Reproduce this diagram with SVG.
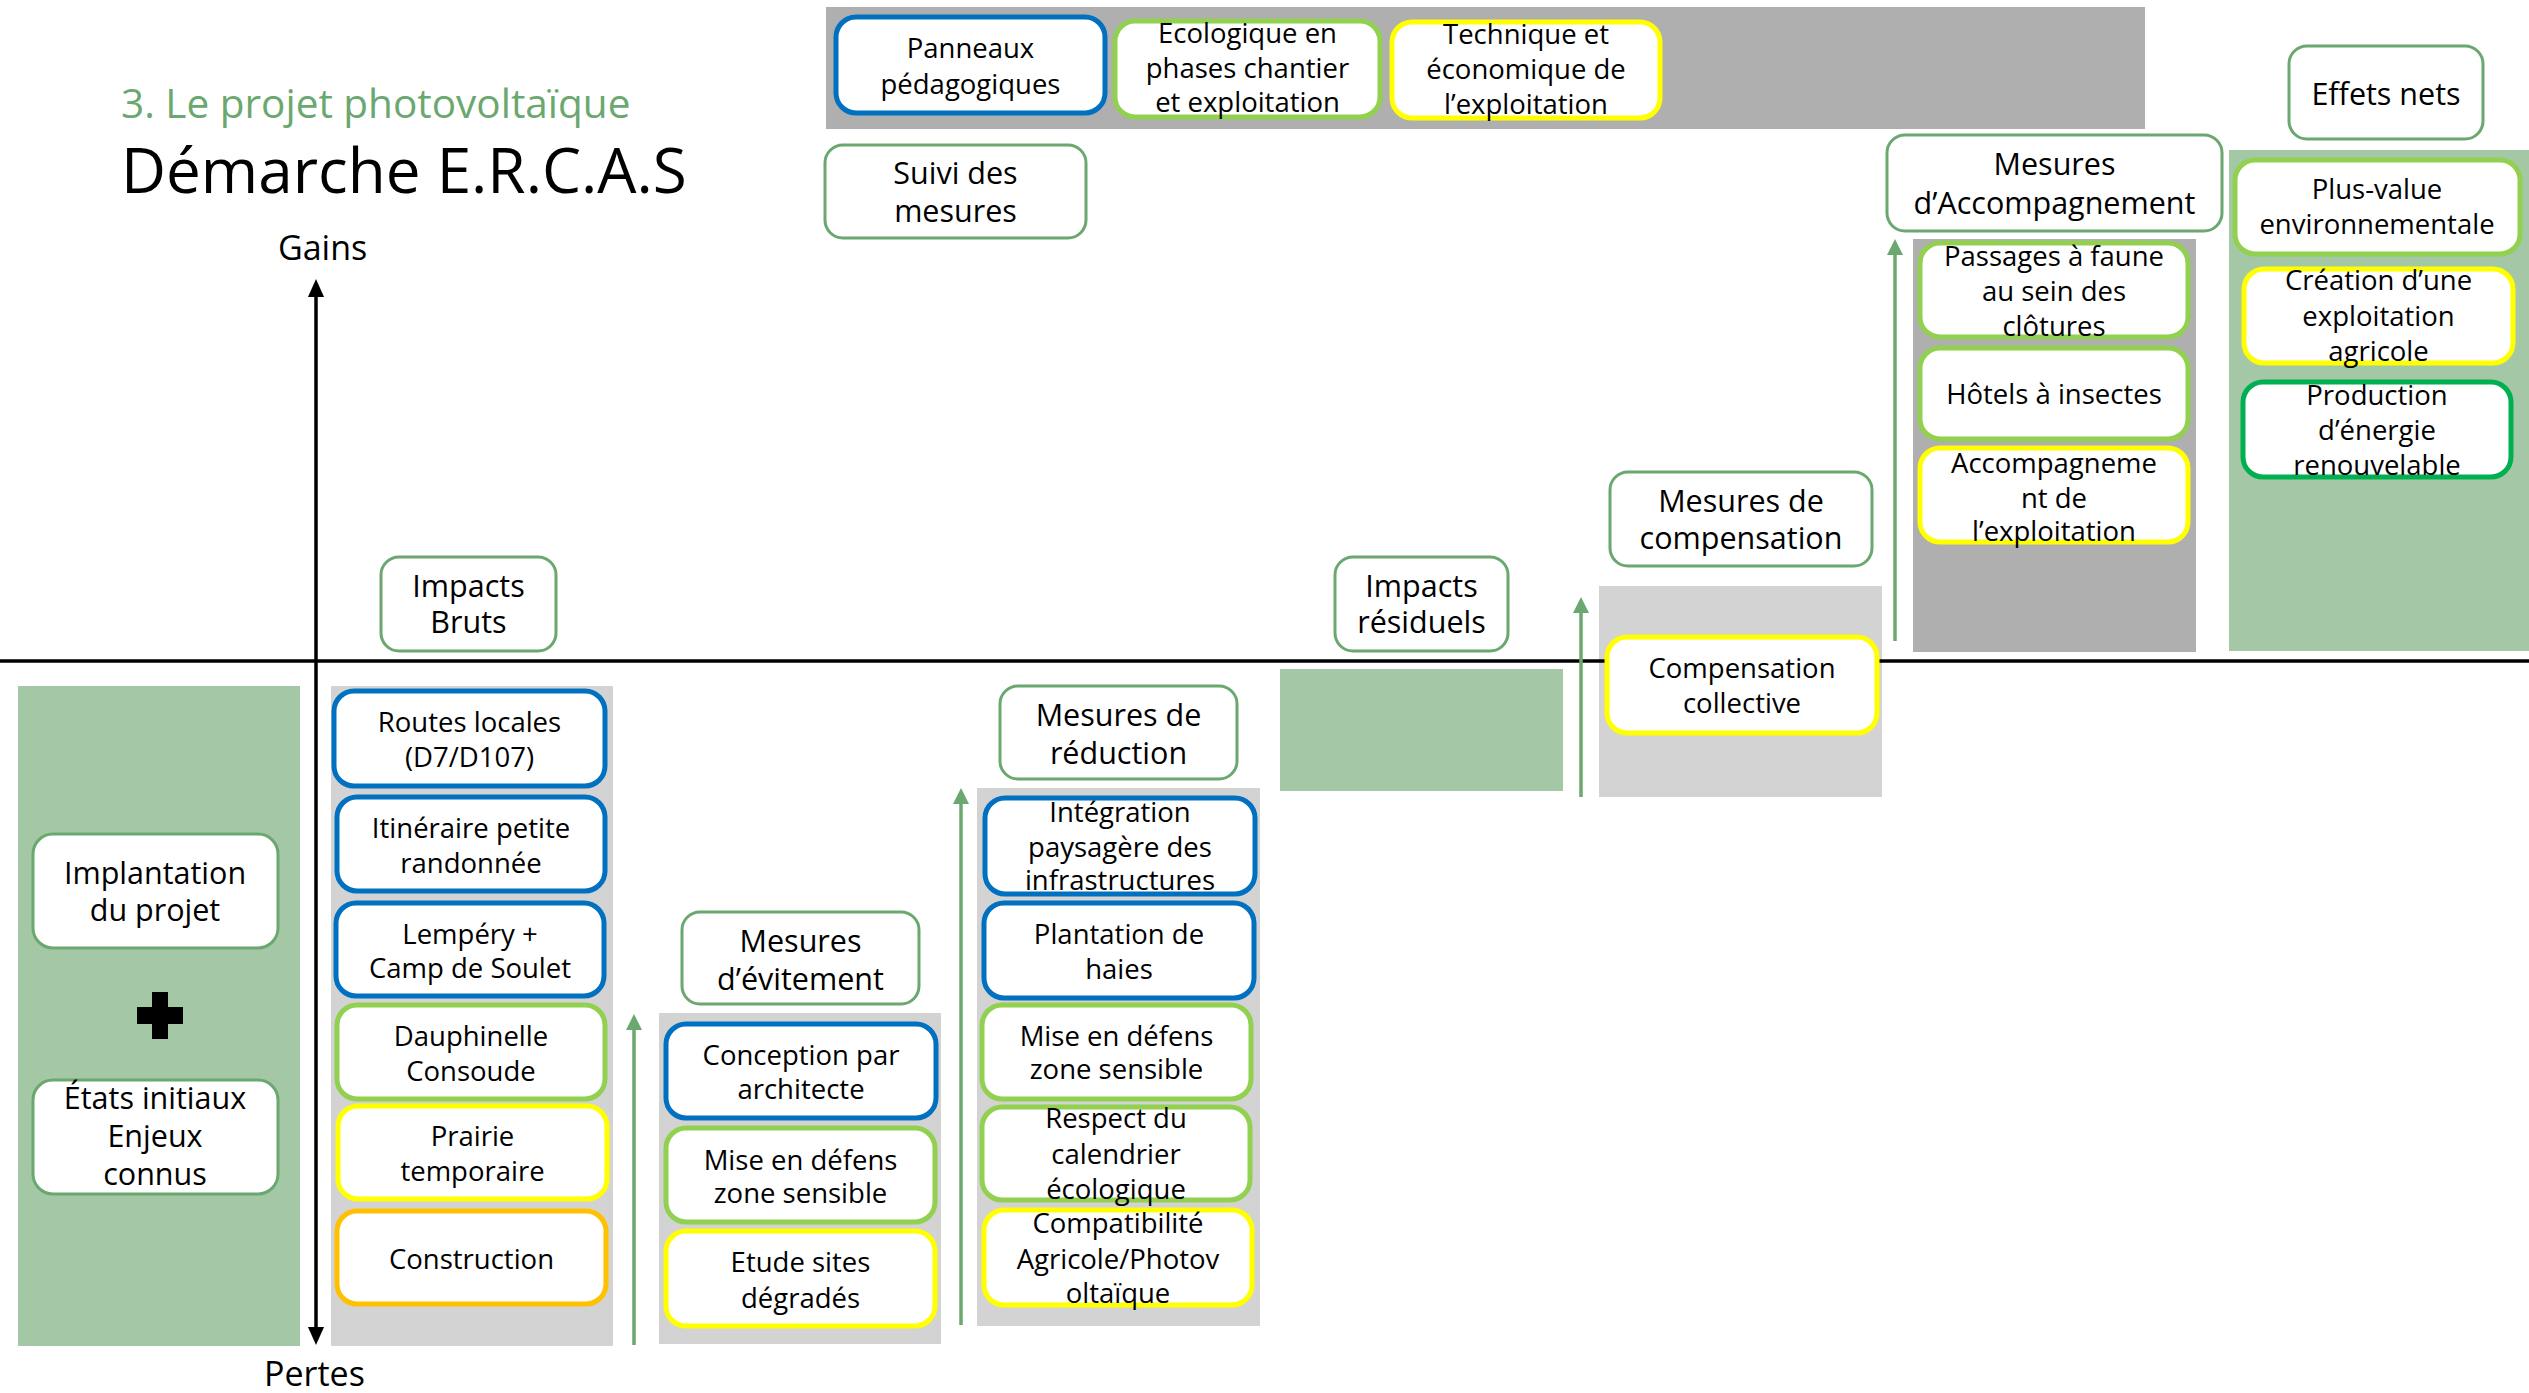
<svg xmlns="http://www.w3.org/2000/svg" width="2529" height="1393" viewBox="0 0 2529 1393">
<defs>
<style>
text{font-family:"Open Sans","Noto Sans","Liberation Sans",sans-serif;fill:#000;text-anchor:middle}
.h{font-size:30.5px}
.i{font-size:27.5px}
.hdr{fill:#fff;stroke:#6BA86F;stroke-width:3}
.bl{fill:#fff;stroke:#0070C0;stroke-width:5}
.lg{fill:#fff;stroke:#92D050;stroke-width:5}
.ye{fill:#fff;stroke:#FFFF00;stroke-width:5}
.or{fill:#fff;stroke:#FFC000;stroke-width:5}
.dg{fill:#fff;stroke:#00B050;stroke-width:5}
.pl{fill:#D3D3D3}
.pd{fill:#AFAFAF}
.pg{fill:#A4C8A6}
.ga{stroke:#6BA86F;stroke-width:3.5;fill:none;marker-end:url(#ag)}
</style>
<marker id="ag" viewBox="0 0 16 16" refX="2" refY="8" markerWidth="16" markerHeight="16" markerUnits="userSpaceOnUse" orient="auto"><path d="M0,0 L16,8 L0,16 z" fill="#6BA86F"/></marker>
<marker id="ab" viewBox="0 0 18 16" refX="2" refY="8" markerWidth="18" markerHeight="16" markerUnits="userSpaceOnUse" orient="auto-start-reverse"><path d="M0,0 L18,8 L0,16 z" fill="#000"/></marker>
</defs>
<rect width="2529" height="1393" fill="#fff"/>

<g id="titles">
<text x="121" y="118" style="font-size:40.5px;text-anchor:start;fill:#6BA86F">3. Le projet photovoltaïque</text>
<text x="121" y="193" style="font-size:62px;text-anchor:start">Démarche E.R.C.A.S</text>
<text x="278" y="260" style="font-size:34px;text-anchor:start">Gains</text>
<text x="264" y="1386" style="font-size:34px;text-anchor:start">Pertes</text>
</g>

<g id="panels">
<rect class="pd" x="826" y="7" width="1319" height="122"/>
<rect class="pd" x="1913" y="239" width="283" height="413"/>
<rect class="pg" x="2229" y="150" width="300" height="501"/>
<rect class="pg" x="18" y="686" width="282" height="660"/>
<rect class="pl" x="331" y="686" width="282" height="660"/>
<rect class="pl" x="659" y="1013" width="282" height="331"/>
<rect class="pl" x="977" y="788" width="283" height="538"/>
<rect class="pg" x="1280" y="669" width="283" height="122"/>
<rect class="pl" x="1599" y="586" width="283" height="211"/>
</g>

<g id="connectors">
<line x1="0" y1="661" x2="2529" y2="661" stroke="#000" stroke-width="3.5"/>
<line x1="316" y1="295" x2="316" y2="1329" stroke="#000" stroke-width="3.5" marker-start="url(#ab)" marker-end="url(#ab)"/>
<line class="ga" x1="634" y1="1345" x2="634" y2="1028"/>
<line class="ga" x1="961" y1="1325" x2="961" y2="802"/>
<line class="ga" x1="1581" y1="797" x2="1581" y2="611"/>
<line class="ga" x1="1895" y1="641" x2="1895" y2="253"/>
</g>

<g id="plus"><path d="M152,992 H168 V1007 H183 V1024 H168 V1039 H152 V1024 H137 V1007 H152 Z" fill="#000"/></g>

<g id="n-suivi"><rect class="hdr" x="825" y="145" width="261" height="93" rx="18"/><text class="h" x="955.5" y="184">Suivi des</text><text class="h" x="955.5" y="222">mesures</text></g>
<g id="n-accomp-h"><rect class="hdr" x="1887" y="135" width="335" height="96" rx="18"/><text class="h" x="2054.5" y="175">Mesures</text><text class="h" x="2054.5" y="214">d’Accompagnement</text></g>
<g id="n-effets"><rect class="hdr" x="2289" y="46" width="194" height="93" rx="18"/><text class="h" x="2386" y="105">Effets nets</text></g>
<g id="n-bruts"><rect class="hdr" x="381" y="557" width="175" height="94" rx="18"/><text class="h" x="468.5" y="597">Impacts</text><text class="h" x="468.5" y="633">Bruts</text></g>
<g id="n-residuels"><rect class="hdr" x="1335" y="557" width="173" height="94" rx="18"/><text class="h" x="1421.5" y="597">Impacts</text><text class="h" x="1421.5" y="633">résiduels</text></g>
<g id="n-compens-h"><rect class="hdr" x="1610" y="472" width="262" height="94" rx="18"/><text class="h" x="1741" y="512">Mesures de</text><text class="h" x="1741" y="549">compensation</text></g>
<g id="n-reduction-h"><rect class="hdr" x="1000" y="686" width="237" height="93" rx="18"/><text class="h" x="1118.5" y="725.5">Mesures de</text><text class="h" x="1118.5" y="764">réduction</text></g>
<g id="n-evitement-h"><rect class="hdr" x="682" y="912" width="237" height="92" rx="18"/><text class="h" x="800.5" y="952">Mesures</text><text class="h" x="800.5" y="990">d’évitement</text></g>
<g id="n-implantation"><rect class="hdr" x="33" y="834" width="245" height="114" rx="20"/><text class="h" x="155" y="884">Implantation</text><text class="h" x="155" y="921">du projet</text></g>
<g id="n-etats"><rect class="hdr" x="33" y="1080" width="245" height="114" rx="20"/><text class="h" x="155" y="1109">États initiaux</text><text class="h" x="155" y="1147">Enjeux</text><text class="h" x="155" y="1185">connus</text></g>

<g id="n-panneaux"><rect class="bl" x="836" y="17" width="269" height="96" rx="20"/><text class="i" x="970.5" y="58">Panneaux</text><text class="i" x="970.5" y="94">pédagogiques</text></g>
<g id="n-ecologique"><rect class="lg" x="1115" y="21" width="265" height="96" rx="20"/><text class="i" x="1247.5" y="43">Ecologique en</text><text class="i" x="1247.5" y="78">phases chantier</text><text class="i" x="1247.5" y="112">et exploitation</text></g>
<g id="n-technique"><rect class="ye" x="1392" y="22" width="268" height="96" rx="20"/><text class="i" x="1526" y="44">Technique et</text><text class="i" x="1526" y="79">économique de</text><text class="i" x="1526" y="114">l’exploitation</text></g>

<g id="n-passages"><rect class="lg" x="1920" y="243" width="268" height="94" rx="20"/><text class="i" x="2054" y="266">Passages à faune</text><text class="i" x="2054" y="301">au sein des</text><text class="i" x="2054" y="336">clôtures</text></g>
<g id="n-hotels"><rect class="lg" x="1920" y="348" width="268" height="91" rx="20"/><text class="i" x="2054" y="404">Hôtels à insectes</text></g>
<g id="n-accomp-expl"><rect class="ye" x="1920" y="448" width="268" height="94" rx="20"/><text class="i" x="2054" y="473">Accompagneme</text><text class="i" x="2054" y="507.5">nt de</text><text class="i" x="2054" y="541">l’exploitation</text></g>

<g id="n-plusvalue"><rect class="lg" x="2235" y="160" width="285" height="94" rx="20"/><text class="i" x="2377" y="199">Plus-value</text><text class="i" x="2377" y="234">environnementale</text></g>
<g id="n-creation"><rect class="ye" x="2244" y="269" width="269" height="94" rx="20"/><text class="i" x="2378.5" y="290">Création d’une</text><text class="i" x="2378.5" y="326">exploitation</text><text class="i" x="2378.5" y="361">agricole</text></g>
<g id="n-production"><rect class="dg" x="2243" y="382" width="268" height="95" rx="20"/><text class="i" x="2377" y="405">Production</text><text class="i" x="2377" y="440">d’énergie</text><text class="i" x="2377" y="475">renouvelable</text></g>

<g id="n-routes"><rect class="bl" x="334" y="691" width="271" height="95" rx="20"/><text class="i" x="469.5" y="732">Routes locales</text><text class="i" x="469.5" y="767">(D7/D107)</text></g>
<g id="n-itineraire"><rect class="bl" x="337" y="797" width="268" height="94" rx="20"/><text class="i" x="471" y="838">Itinéraire petite</text><text class="i" x="471" y="873">randonnée</text></g>
<g id="n-lempery"><rect class="bl" x="336" y="903" width="268" height="93" rx="20"/><text class="i" x="470" y="944">Lempéry +</text><text class="i" x="470" y="978">Camp de Soulet</text></g>
<g id="n-dauphinelle"><rect class="lg" x="337" y="1005" width="268" height="94" rx="20"/><text class="i" x="471" y="1046">Dauphinelle</text><text class="i" x="471" y="1081">Consoude</text></g>
<g id="n-prairie"><rect class="ye" x="338" y="1106" width="269" height="93" rx="20"/><text class="i" x="472.5" y="1145.5">Prairie</text><text class="i" x="472.5" y="1181">temporaire</text></g>
<g id="n-construction"><rect class="or" x="337" y="1211" width="269" height="93" rx="20"/><text class="i" x="471.5" y="1269">Construction</text></g>

<g id="n-conception"><rect class="bl" x="666" y="1024" width="270" height="94" rx="20"/><text class="i" x="801" y="1065">Conception par</text><text class="i" x="801" y="1099">architecte</text></g>
<g id="n-defens-e"><rect class="lg" x="666" y="1128" width="269" height="94" rx="20"/><text class="i" x="800.5" y="1169.5">Mise en défens</text><text class="i" x="800.5" y="1203">zone sensible</text></g>
<g id="n-etude"><rect class="ye" x="666" y="1231" width="269" height="95" rx="20"/><text class="i" x="800.5" y="1272">Etude sites</text><text class="i" x="800.5" y="1307.5">dégradés</text></g>

<g id="n-integration"><rect class="bl" x="985" y="798" width="270" height="96" rx="20"/><text class="i" x="1120" y="822">Intégration</text><text class="i" x="1120" y="857">paysagère des</text><text class="i" x="1120" y="890">infrastructures</text></g>
<g id="n-plantation"><rect class="bl" x="984" y="903" width="270" height="95" rx="20"/><text class="i" x="1119" y="944">Plantation de</text><text class="i" x="1119" y="979">haies</text></g>
<g id="n-defens-r"><rect class="lg" x="982" y="1005" width="269" height="94" rx="20"/><text class="i" x="1116.5" y="1045.5">Mise en défens</text><text class="i" x="1116.5" y="1079">zone sensible</text></g>
<g id="n-respect"><rect class="lg" x="982" y="1107" width="268" height="93" rx="20"/><text class="i" x="1116" y="1127.5">Respect du</text><text class="i" x="1116" y="1163.5">calendrier</text><text class="i" x="1116" y="1198.5">écologique</text></g>
<g id="n-compatibilite"><rect class="ye" x="984" y="1210" width="268" height="95" rx="20"/><text class="i" x="1118" y="1232.5">Compatibilité</text><text class="i" x="1118" y="1268.5">Agricole/Photov</text><text class="i" x="1118" y="1303">oltaïque</text></g>

<g id="n-compens-coll"><rect class="ye" x="1607" y="637" width="270" height="96" rx="20"/><text class="i" x="1742" y="678">Compensation</text><text class="i" x="1742" y="713">collective</text></g>
</svg>
